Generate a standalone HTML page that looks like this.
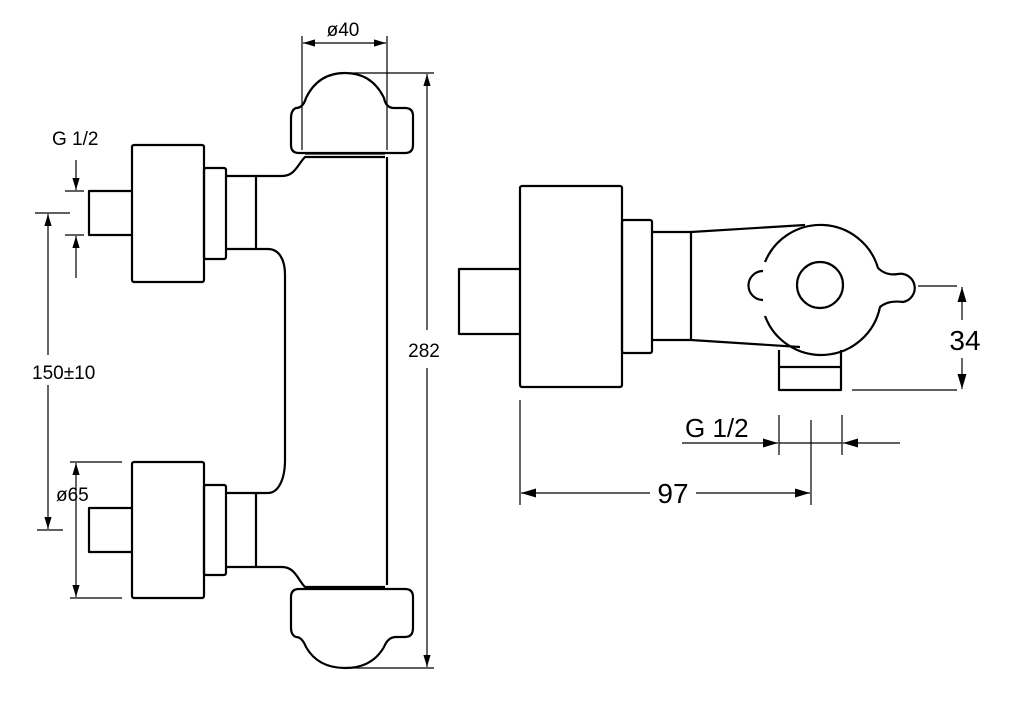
<!DOCTYPE html>
<html><head><meta charset="utf-8"><style>html,body{margin:0;background:#fff}svg{display:block}</style></head><body>
<svg width="1024" height="710" viewBox="0 0 1024 710" xmlns="http://www.w3.org/2000/svg" font-family="Liberation Sans, sans-serif">
<defs>
<marker id="a" viewBox="0 0 10 10" refX="10" refY="5" markerWidth="13" markerHeight="12" markerUnits="userSpaceOnUse" orient="auto-start-reverse"><path d="M0,2 L10,5 L0,8z" fill="#000"/></marker>
<marker id="b" viewBox="0 0 10 10" refX="10" refY="5" markerWidth="17" markerHeight="15" markerUnits="userSpaceOnUse" orient="auto-start-reverse"><path d="M0,2 L10,5 L0,8z" fill="#000"/></marker>
</defs>
<g fill="none" stroke="#000" stroke-width="2.2" stroke-linejoin="round">
<line x1="387" y1="157" x2="387" y2="585"/>
<path d="M256,176 H282 C295,176 298,164 305,157 H385"/>
<path d="M256,249 H268 C278,249 285,258 285,275 V460 C285,480 278,493 268,493 H256"/>
<path d="M256,567 H282 C295,567 298,580 305,587 H385"/>
<line x1="305" y1="154" x2="385" y2="154" stroke-width="1.2"/>
<line x1="305" y1="589" x2="385" y2="589" stroke-width="1.2"/>
<path d="M305,153 H405 Q413,153 413,145 V116 Q413,108 405,108 H394 Q386,108 384,98 Q372,73 345,73 Q318,73 306,98 Q303,108 296,108 Q291,110 291,118 V145 Q291,153 299,153 Z"/>
<path d="M299,589 H405 Q413,589 413,597 V628 Q413,637 405,637 H396 Q388,637 384,647 Q372,668 345,668 Q318,668 306,647 Q302,637 296,637 Q291,635 291,628 V597 Q291,589 299,589 Z"/>
<rect x="132" y="145" width="72" height="137" rx="2"/>
<rect x="204" y="168" width="22" height="91" rx="2"/>
<path d="M226,176 H256 V249 H226"/>
<path d="M132,191 H89 V235 H132"/>
<rect x="132" y="462" width="72" height="136" rx="2"/>
<rect x="204" y="485" width="22" height="90" rx="2"/>
<path d="M226,493 H256 V567 H226"/>
<path d="M132,508 H89 V552 H132"/>
<rect x="520" y="186" width="102" height="201" rx="2"/>
<path d="M520,269 H459 V334 H520"/>
<rect x="622" y="220" width="30" height="133" rx="2"/>
<path d="M652,232 H691 V340 H652"/>
<path d="M691,232 L805,225"/>
<path d="M691,340 L800,347"/>
<path d="M765,262 A60,60 0 0 1 878,268 Q886,276 898,274 A14,14 0 0 1 903,302 Q888,300 880,307 A60,60 0 0 1 765,316"/>
<path d="M763,271 A13,13 0 0 0 763,300"/>
<circle cx="820" cy="285" r="23"/>
<path d="M779,350 V390 H841 V350"/>
<line x1="779" y1="367" x2="841" y2="367"/>
</g>
<g fill="none" stroke="#000" stroke-width="1.2">
<line x1="302" y1="36" x2="302" y2="150"/><line x1="387" y1="36" x2="387" y2="150"/>
<line x1="303" y1="43" x2="386" y2="43" marker-start="url(#a)" marker-end="url(#a)"/>
<line x1="340" y1="73" x2="434" y2="73"/><line x1="340" y1="668" x2="434" y2="668"/>
<line x1="427" y1="330" x2="427" y2="74" marker-end="url(#a)"/>
<line x1="427" y1="368" x2="427" y2="667" marker-end="url(#a)"/>
<line x1="65" y1="191" x2="84" y2="191"/><line x1="65" y1="235" x2="84" y2="235"/>
<line x1="76" y1="160" x2="76" y2="190" marker-end="url(#a)"/>
<line x1="76" y1="278" x2="76" y2="236" marker-end="url(#a)"/>
<line x1="35" y1="213" x2="70" y2="213"/><line x1="37" y1="530" x2="63" y2="530"/>
<line x1="48" y1="355" x2="48" y2="214" marker-end="url(#a)"/>
<line x1="48" y1="385" x2="48" y2="529" marker-end="url(#a)"/>
<line x1="70" y1="462" x2="122" y2="462"/><line x1="70" y1="598" x2="122" y2="598"/>
<line x1="76" y1="463" x2="76" y2="597" marker-start="url(#a)" marker-end="url(#a)"/>
<line x1="918" y1="286" x2="957" y2="286"/><line x1="852" y1="390" x2="957" y2="390"/>
<line x1="962" y1="320" x2="962" y2="287" marker-end="url(#b)"/>
<line x1="962" y1="358" x2="962" y2="389" marker-end="url(#b)"/>
<line x1="779" y1="415" x2="779" y2="455"/><line x1="842" y1="415" x2="842" y2="455"/>
<line x1="682" y1="443" x2="778" y2="443" marker-end="url(#b)"/>
<line x1="779" y1="443" x2="842" y2="443"/>
<line x1="900" y1="443" x2="843" y2="443" marker-end="url(#b)"/>
<line x1="520" y1="400" x2="520" y2="505"/><line x1="811" y1="420" x2="811" y2="505"/>
<line x1="650" y1="493" x2="521" y2="493" marker-end="url(#b)"/>
<line x1="696" y1="493" x2="810" y2="493" marker-end="url(#b)"/>
</g>
<g fill="#000">
<text x="343" y="36" font-size="19" text-anchor="middle">ø40</text>
<text x="52" y="145" font-size="19">G 1/2</text>
<text x="424" y="357" font-size="19" text-anchor="middle">282</text>
<text x="32" y="379" font-size="19">150±10</text>
<text x="56" y="501" font-size="19">ø65</text>
<text x="965" y="350" font-size="28" text-anchor="middle">34</text>
<text x="685" y="437" font-size="26">G 1/2</text>
<text x="673" y="503" font-size="28" text-anchor="middle">97</text>
</g>
</svg>
</body></html>
